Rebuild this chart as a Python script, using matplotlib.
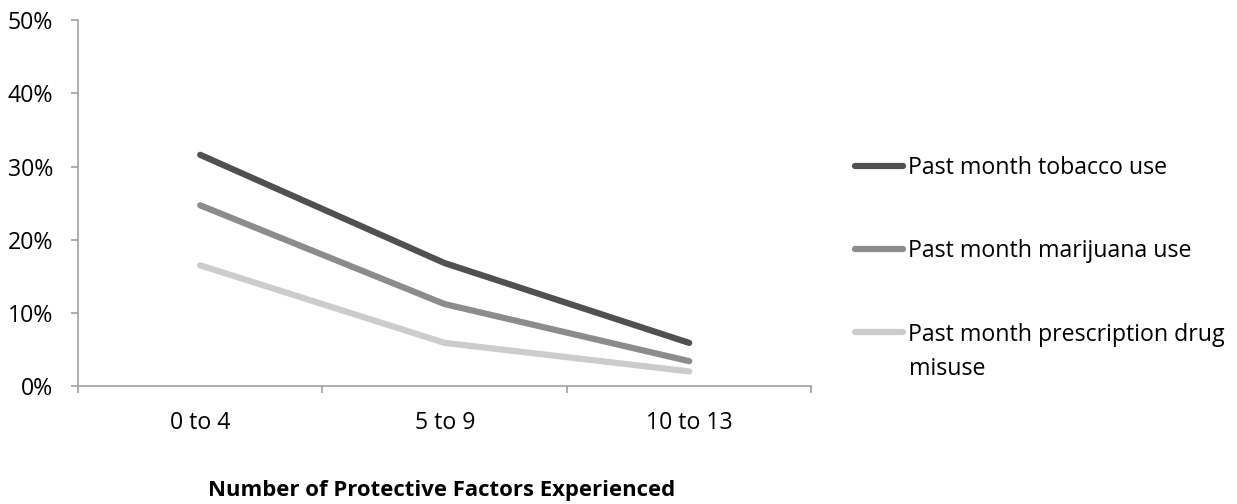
import matplotlib.pyplot as plt
from matplotlib.ticker import PercentFormatter

plt.rcParams["font.family"] = ["Open Sans", "DejaVu Sans"]

# ── Data ──
categories = ["0 to 4", "5 to 9", "10 to 13"]
tobacco = [31.6, 16.8, 5.9]
marijuana = [24.7, 11.2, 3.4]
rx_misuse = [16.5, 5.9, 2.0]

series = [
    ("Past month tobacco use", tobacco, "#505050"),
    ("Past month marijuana use", marijuana, "#8c8c8c"),
    ("Past month prescription drug", rx_misuse, "#cccccc"),
]

FS = 16.7

fig = plt.figure(figsize=(12.37, 5.04), dpi=100)
ax = fig.add_axes([0.063, 0.234, 0.593, 0.726])

x = list(range(len(categories)))
for label, vals, color in series:
    ax.plot(x, vals, color=color, lw=4.5, solid_capstyle="round", label=label)

ax.set_xlim(-0.5, len(categories) - 0.5)
ax.set_ylim(0, 50)
ax.set_yticks([0, 10, 20, 30, 40, 50])
ax.yaxis.set_major_formatter(PercentFormatter(decimals=0))

# category labels centred, tick marks between categories
ax.set_xticks(x)
ax.set_xticklabels(categories)
ax.set_xticks([-0.5, 0.5, 1.5, 2.5], minor=True)
ax.tick_params(axis="x", which="major", length=0, pad=18, labelsize=FS)
ax.tick_params(axis="x", which="minor", length=5, color="#a0a0a0", width=1.2)
ax.tick_params(axis="y", length=5, color="#a0a0a0", width=1.2, pad=13, labelsize=FS)

for side in ["top", "right"]:
    ax.spines[side].set_visible(False)
for side in ["left", "bottom"]:
    ax.spines[side].set_color("#a0a0a0")
    ax.spines[side].set_linewidth(1.2)

fig.text(0.357, 0.026, "Number of Protective Factors Experienced",
         ha="center", va="center", fontsize=15.9, fontweight="bold")

leg = fig.legend(loc="upper left", bbox_to_anchor=(0.691, 0.690),
                 frameon=False, fontsize=FS, handlelength=2.1,
                 handletextpad=0.2, labelspacing=2.55,
                 borderpad=0, borderaxespad=0)
fig.text(0.735, 0.268, "misuse", ha="left", va="center", fontsize=FS)

fig.savefig("out.png", dpi=100)
